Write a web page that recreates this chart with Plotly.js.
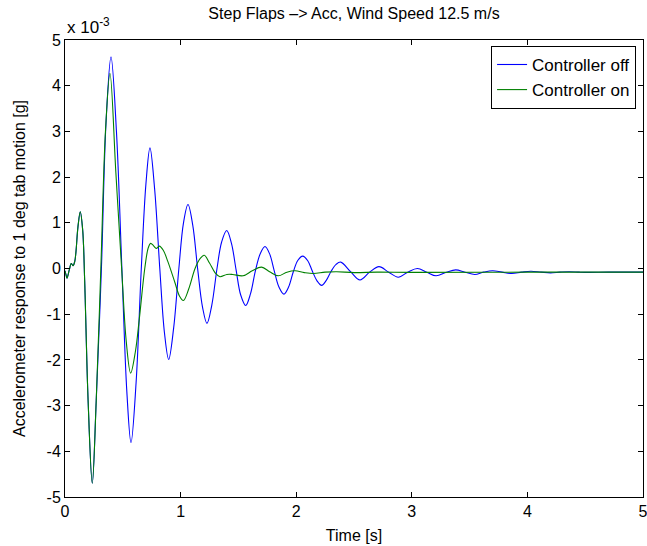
<!DOCTYPE html>
<html>
<head>
<meta charset="utf-8">
<script src="https://cdn.plot.ly/plotly-3.0.1.min.js"></script>
<style>html,body{margin:0;padding:0;background:#fff;}#chart{width:647px;height:546px;}</style>
</head>
<body>
<div id="chart"></div>
<script>
// Time [s]
const tOff = [0, 0.009, 0.017, 0.037, 0.054, 0.069, 0.084, 0.095, 0.112, 0.132, 0.153, 0.170, 0.20, 0.236, 0.27, 0.315, 0.355, 0.398, 0.445, 0.492, 0.535, 0.571, 0.615, 0.66, 0.70, 0.735, 0.775, 0.82, 0.86, 0.897, 0.94, 0.985, 1.025, 1.064, 1.105, 1.148, 1.19, 1.228, 1.27, 1.315, 1.355, 1.399, 1.44, 1.48, 1.52, 1.563, 1.605, 1.647, 1.69, 1.73, 1.77, 1.81, 1.85, 1.894, 1.935, 1.975, 2.015, 2.056, 2.10, 2.14, 2.18, 2.22, 2.26, 2.30, 2.345, 2.385, 2.47, 2.552, 2.635, 2.716, 2.80, 2.883, 2.965, 3.048, 3.13, 3.21, 3.30, 3.38, 3.46, 3.545, 3.62, 3.70, 3.78, 3.865, 3.95, 4.03, 4.12, 4.20, 4.28, 4.36, 4.45, 4.53, 4.7, 5.0];
// Accelerometer response, units of 1e-3 g (controller off)
const vOff = [-0.05, -0.14, -0.21, -0.03, 0.11, 0.06, 0.15, 0.37, 0.91, 1.24, 0.84, -0.25, -2.9, -4.70, -2.9, 0.0, 3.2, 4.63, 3.0, 0.0, -2.7, -3.81, -2.5, 0.0, 1.85, 2.64, 1.75, 0.0, -1.4, -1.99, -1.3, 0.0, 1.0, 1.40, 0.95, -0.02, -0.85, -1.20, -0.8, 0.0, 0.58, 0.83, 0.55, -0.03, -0.58, -0.81, -0.55, -0.05, 0.33, 0.48, 0.32, -0.05, -0.40, -0.56, -0.40, -0.07, 0.18, 0.27, 0.17, -0.06, -0.27, -0.37, -0.26, -0.07, 0.09, 0.14, -0.07, -0.25, -0.08, 0.04, -0.08, -0.19, -0.08, 0.0, -0.08, -0.16, -0.08, -0.03, -0.08, -0.13, -0.08, -0.05, -0.08, -0.11, -0.08, -0.06, -0.08, -0.095, -0.08, -0.07, -0.08, -0.085, -0.08, -0.08];

const tOn = [0, 0.009, 0.017, 0.037, 0.054, 0.069, 0.084, 0.095, 0.112, 0.132, 0.153, 0.170, 0.20, 0.236, 0.27, 0.31, 0.35, 0.389, 0.44, 0.49, 0.53, 0.568, 0.61, 0.643, 0.69, 0.72, 0.741, 0.765, 0.79, 0.816, 0.85, 0.89, 0.95, 0.99, 1.024, 1.07, 1.125, 1.17, 1.205, 1.25, 1.30, 1.34, 1.40, 1.45, 1.54, 1.62, 1.70, 1.77, 1.845, 1.92, 1.99, 2.07, 2.15, 2.25, 2.35, 2.5, 2.7, 3.0, 4.0, 5.0];
// Accelerometer response, units of 1e-3 g (controller on)
const vOn = [-0.05, -0.14, -0.21, -0.03, 0.11, 0.06, 0.15, 0.37, 0.91, 1.24, 0.84, -0.25, -2.9, -4.70, -2.9, 0.0, 3.0, 4.27, 2.1, 0.0, -1.6, -2.29, -1.8, -1.1, 0.0, 0.45, 0.55, 0.50, 0.44, 0.49, 0.40, 0.15, -0.3, -0.6, -0.70, -0.45, 0.0, 0.22, 0.29, 0.12, -0.10, -0.18, -0.13, -0.13, -0.16, -0.05, 0.03, -0.07, -0.16, -0.08, -0.05, -0.09, -0.11, -0.08, -0.07, -0.09, -0.08, -0.085, -0.08, -0.08];

const xTickVals = [0, 1, 2, 3, 4, 5];
const xTickText = ['0', '1', '2', '3', '4', '5'];
const yTickVals = [-5, -4, -3, -2, -1, 0, 1, 2, 3, 4, 5];
const yTickText = ['-5', '-4', '-3', '-2', '-1', '0', '1', '2', '3', '4', '5'];

const FONT = 'Liberation Sans, Arial, Helvetica, sans-serif';

const traces = [
  {x: tOff, y: vOff, type: 'scatter', mode: 'lines', name: 'Controller off',
   line: {color: '#0000ff', width: 1.1, shape: 'spline', smoothing: 1}},
  {x: tOn, y: vOn, type: 'scatter', mode: 'lines', name: 'Controller on',
   line: {color: '#008000', width: 1.1, shape: 'spline', smoothing: 1}}
];

const axisCommon = {
  showline: true, linecolor: '#000', linewidth: 1, mirror: 'ticks',
  ticks: 'inside', ticklen: 5, tickcolor: '#000', tickwidth: 1,
  showgrid: false, zeroline: false, ticklabeloverflow: 'allow',
  tickfont: {family: FONT, size: 16, color: '#000'}
};

const layout = {
  width: 647, height: 546,
  margin: {l: 65, r: 4, t: 40, b: 49},
  paper_bgcolor: '#fff', plot_bgcolor: '#fff',
  font: {family: FONT, size: 16, color: '#000'},
  title: {text: 'Step Flaps –> Acc, Wind Speed 12.5 m/s', x: 0.5, xref: 'paper',
          y: 1 - 13/546, yref: 'container', yanchor: 'middle',
          font: {family: FONT, size: 16, color: '#000'}},
  xaxis: Object.assign({}, axisCommon, {
    range: [0, 5], tickmode: 'array', tickvals: xTickVals, ticktext: xTickText,
    title: {text: 'Time [s]', font: {family: FONT, size: 16, color: '#000'}, standoff: 10},
    automargin: false
  }),
  yaxis: Object.assign({}, axisCommon, {
    range: [-5, 5], tickmode: 'array', tickvals: yTickVals, ticktext: yTickText,
    title: {text: 'Accelerometer response to 1 deg tab motion [g]', font: {family: FONT, size: 16, color: '#000'}, standoff: 16},
    automargin: false
  }),
  showlegend: true,
  legend: {x: 0.988, xanchor: 'right', y: 0.987, yanchor: 'top',
           bgcolor: '#fff', bordercolor: '#000', borderwidth: 1,
           font: {family: FONT, size: 17, color: '#000'}},
  annotations: [{
    text: 'x 10<sup>-3</sup>', xref: 'paper', yref: 'paper', x: 0, y: 1 + 14/457,
    xanchor: 'left', yanchor: 'middle', showarrow: false,
    font: {family: FONT, size: 17, color: '#000'}
  }]
};

Plotly.newPlot('chart', traces, layout, {displayModeBar: false, staticPlot: true});
</script>
</body>
</html>
